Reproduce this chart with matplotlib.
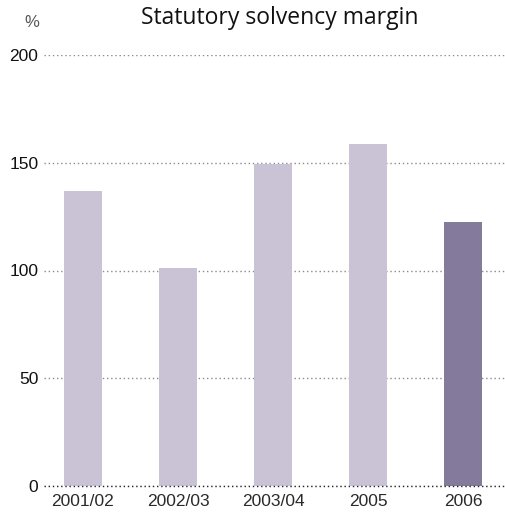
import matplotlib.pyplot as plt
import numpy as np

# Statutory solvency margin by year (%)
years = ["2001/02", "2002/03", "2003/04", "2005", "2006"]
margin = [137, 101, 149.5, 158.5, 122.5]
bar_colors = ["#c9c3d5", "#c9c3d5", "#c9c3d5", "#c9c3d5", "#837a9c"]
y_ticks = [0, 50, 100, 150, 200]

sans = ["Liberation Sans", "DejaVu Sans"]

fig = plt.figure(figsize=(5.06, 5.16), dpi=100)
ax = fig.add_axes([44 / 506, 30 / 516, 461 / 506, 431 / 516])

x = np.arange(len(years))
ax.bar(x, margin, width=0.4, color=bar_colors, zorder=2)

ax.set_ylim(0, 200)
ax.set_xlim(-0.41, 4.44)
ax.set_yticks(y_ticks)
ax.set_xticks(x)
ax.set_xticklabels(years, family=sans, fontsize=12.5, color="#2a2a2a")
ax.set_yticklabels([str(t) for t in y_ticks], family=sans, fontsize=12.5, color="#111111")
ax.tick_params(length=0, pad=4)
ax.tick_params(axis="x", pad=6)

# dotted gridlines behind the bars, darker baseline at zero
ax.yaxis.grid(True, linestyle=(0, (1, 2)), color="#8a8a8a", linewidth=1, zorder=1)
ax.axhline(0, linestyle=(0, (1, 2)), color="#222222", linewidth=1, zorder=3, clip_on=False)
for side in ax.spines.values():
    side.set_visible(False)

fig.text(0.553, 0.965, "Statutory solvency margin", ha="center", va="center",
         fontsize=16.5, family=["Open Sans", "DejaVu Sans"], color="#111111")
fig.text(0.063, 0.957, "%", ha="center", va="center", fontsize=12,
         family=sans, color="#555555")

fig.savefig("out.png", dpi=100)
